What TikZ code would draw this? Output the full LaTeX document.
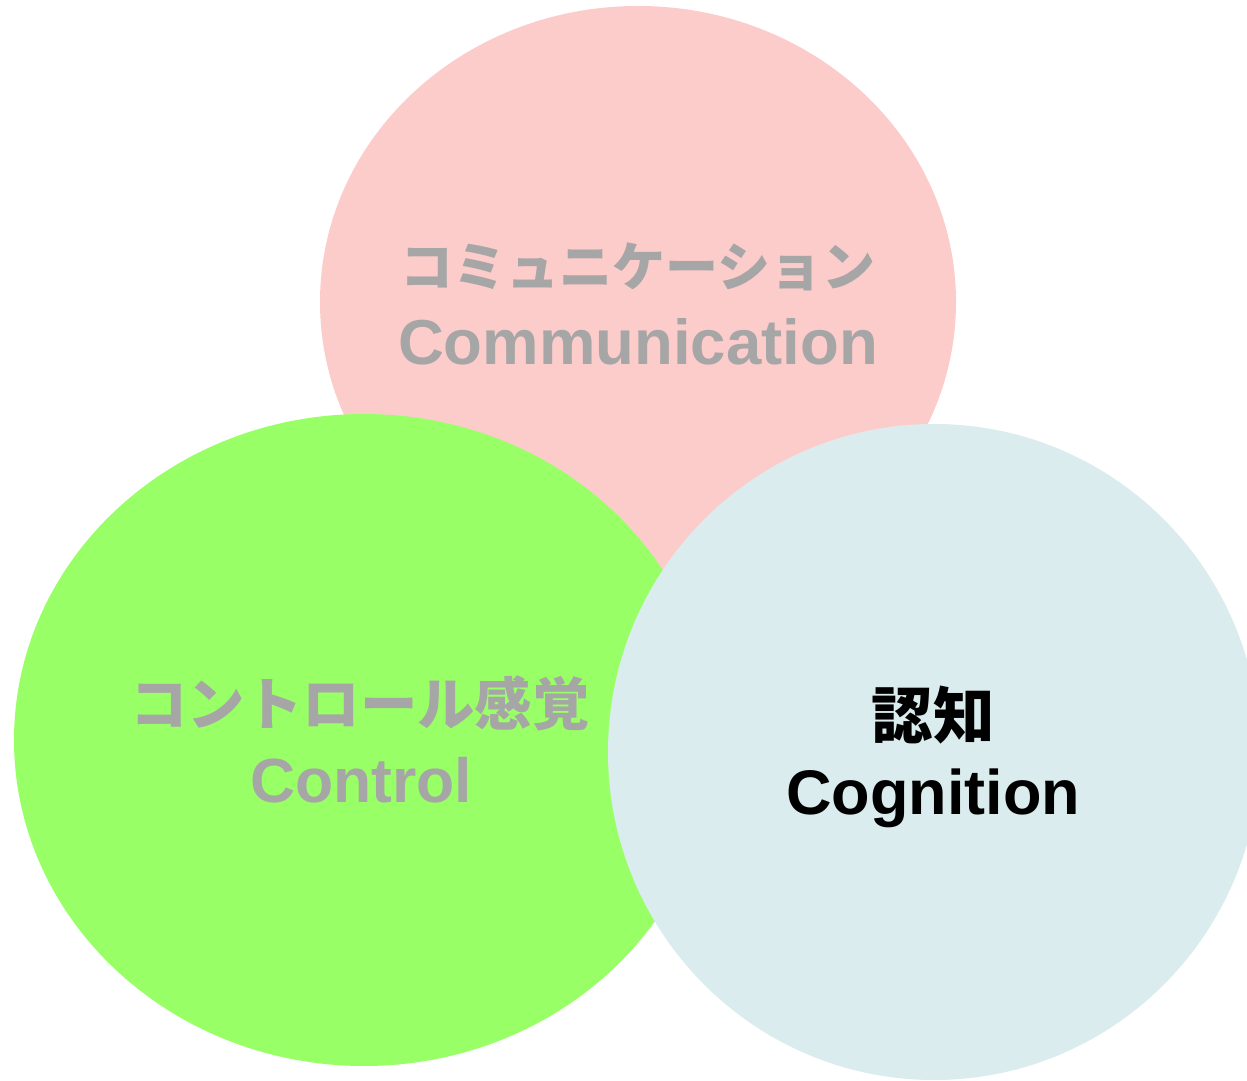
\documentclass[tikz,border=0pt]{standalone}
\usepackage{fontspec}
\setmainfont{Liberation Sans}
\newfontfamily\jpfont{Noto Sans CJK JP}
\usepackage{xcolor}
\definecolor{CommPink}{HTML}{FCCCCB}
\definecolor{CtrlGreen}{HTML}{99FF66}
\definecolor{CognBlue}{HTML}{DAECEE}
\definecolor{LabelGray}{HTML}{A6A6A6}
\tikzset{
    % Text styles
    jplabel/.style={
        anchor=base,
        inner sep=0pt,
        font=\jpfont\bfseries
    },
    enlabel/.style={
        anchor=base,
        inner sep=0pt,
        font=\bfseries
    }
}

\begin{document}
\begin{tikzpicture}[x=0.5pt, y=0.5pt]
    \useasboundingbox (0,0) rectangle (1247,1081);
    \clip (0,0) rectangle (1247,1081);

    % Circles, back to front
    \fill[CommPink] (638,779) ellipse [x radius=318, y radius=296];
    \fill[CtrlGreen] (364,341) ellipse [x radius=350, y radius=326];
    \fill[CognBlue] (934,329) ellipse [x radius=326, y radius=328];

    % Communication
    \node[jplabel, text=LabelGray, font=\fontsize{26.5}{30}\jpfont\bfseries] (commjp) at (638,794) {コミュニケーション};
    \node[enlabel, text=LabelGray, font=\fontsize{31.75}{36}\bfseries] (commen) at (638,716) {Communication};

    % Control
    \node[jplabel, text=LabelGray, font=\fontsize{28.7}{32}\jpfont\bfseries] (ctrljp) at (360,355) {コントロール感覚};
    \node[enlabel, text=LabelGray, font=\fontsize{31.2}{36}\bfseries] (ctrlen) at (361,278) {Control};

    % Cognition
    \node[jplabel, text=black, font=\fontsize{30.75}{36}\jpfont\bfseries] (cognjp) at (933,342) {認知};
    \node[enlabel, text=black, font=\fontsize{31.5}{36}\bfseries] (cognen) at (933,266) {Cognition};
\end{tikzpicture}
\end{document}
